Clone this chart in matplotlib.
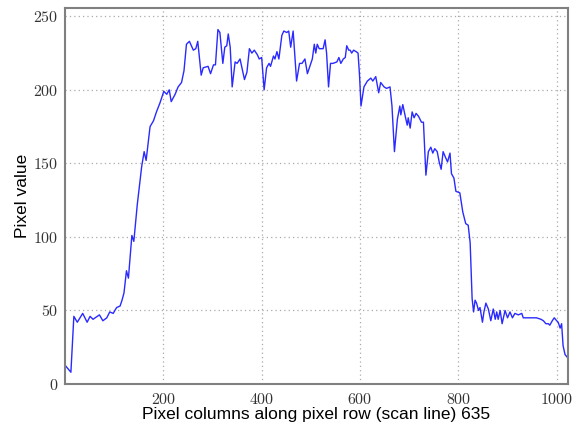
import matplotlib
matplotlib.use("Agg")
import matplotlib.pyplot as plt
from matplotlib.ticker import FuncFormatter, FixedLocator

# Scan line profile (pixel column, pixel value)
columns = [0, 2, 12, 18, 25, 36, 45, 51, 57, 70, 77, 85, 91, 98, 105, 112, 116, 120,
           125, 129, 136, 140, 147, 156, 161, 165, 173, 180, 186, 193, 201, 207, 212,
           216, 224, 230, 237, 242, 247, 253, 261, 266, 270, 277, 281, 291, 296, 302,
           306, 311, 315, 321, 325, 329, 332, 336, 340, 346, 350, 356, 365, 370, 375,
           380, 385, 391, 395, 400, 405, 410, 415, 418, 424, 427, 431, 435, 441, 445,
           451, 455, 459, 464, 471, 477, 482, 488, 493, 500, 503, 507, 510, 513, 517,
           525, 529, 532, 536, 540, 545, 553, 557, 561, 566, 570, 573, 577, 580, 583,
           587, 592, 596, 599, 602, 608, 615, 622, 626, 632, 638, 642, 649, 654, 661,
           665, 670, 676, 681, 683, 687, 692, 696, 698, 702, 706, 710, 714, 719, 725,
           729, 734, 739, 744, 748, 752, 757, 761, 765, 769, 774, 778, 783, 786, 791,
           795, 803, 809, 815, 820, 824, 828, 831, 834, 837, 841, 844, 849, 852, 856,
           861, 866, 871, 875, 878, 881, 885, 889, 895, 900, 905, 910, 915, 922, 929,
           932, 939, 949, 959, 968, 973, 978, 983, 986, 991, 995, 1000, 1003, 1007,
           1010, 1013, 1017, 1022]
values = [13, 12, 8, 46, 42, 48, 42, 46, 44, 47, 43, 45, 49, 48, 52, 53, 57, 62,
          77, 72, 101, 97, 122, 148, 158, 152, 175, 179, 185, 191, 199, 197, 200,
          192, 197, 202, 205, 213, 231, 233, 227, 228, 233, 210, 215, 216, 211, 217,
          217, 241, 239, 218, 229, 230, 238, 229, 202, 219, 218, 221, 207, 212, 228,
          225, 227, 224, 221, 222, 200, 215, 218, 216, 223, 221, 226, 221, 237, 240,
          239, 240, 229, 240, 206, 218, 218, 221, 211, 218, 221, 231, 225, 231, 228,
          228, 234, 225, 202, 218, 218, 219, 222, 218, 221, 222, 230, 227, 227, 225,
          227, 226, 225, 210, 189, 202, 206, 208, 206, 209, 198, 205, 202, 201, 202,
          189, 158, 180, 189, 183, 190, 182, 176, 181, 174, 185, 181, 184, 182, 178,
          178, 142, 158, 161, 157, 160, 158, 151, 146, 158, 154, 151, 157, 143, 140,
          131, 130, 117, 109, 108, 96, 58, 49, 57, 55, 50, 52, 42, 49, 55,
          51, 43, 51, 44, 49, 44, 50, 41, 50, 45, 49, 45, 48, 47, 48,
          45, 45, 45, 45, 44, 43, 41, 41, 40, 43, 45, 43, 42, 38,
          41, 26, 20, 18]

x_ticks = [200, 400, 600, 800, 1000]
y_ticks = [0, 50, 100, 150, 200, 250]
x_label = "Pixel columns along pixel row (scan line) 635"
y_label = "Pixel value"

plt.rcParams["mathtext.fontset"] = "cm"
plt.rcParams["font.family"] = ["Liberation Sans", "DejaVu Sans"]

fig = plt.figure(figsize=(5.77, 4.32), dpi=100)
ax = fig.add_axes([65 / 577, 1 - 384 / 432, (568 - 65) / 577, (384 - 7.5) / 432])

ax.plot(columns, values, color="#2a2aff", lw=1.0)
ax.set_xlim(0, 1023)
ax.set_ylim(0, 256)

ax.xaxis.set_major_locator(FixedLocator(x_ticks))
ax.yaxis.set_major_locator(FixedLocator(y_ticks))
fmt = FuncFormatter(lambda v, p: r"$%d$" % int(v))
ax.xaxis.set_major_formatter(fmt)
ax.yaxis.set_major_formatter(fmt)
ax.tick_params(axis="both", length=0, labelsize=11.5, colors="#333333", labelcolor="#333333")
ax.tick_params(axis="x", pad=6)
ax.tick_params(axis="y", pad=5)

ax.grid(True, linestyle=(0, (1, 2.5)), color="#aaaaaa", lw=0.9)
for s in ax.spines.values():
    s.set_color("#808080")
    s.set_linewidth(1.5)

ax.set_xlabel(x_label, fontsize=12.5, labelpad=0)
ax.set_ylabel(y_label, fontsize=12.5, labelpad=2)

fig.savefig("out.png", dpi=100)
